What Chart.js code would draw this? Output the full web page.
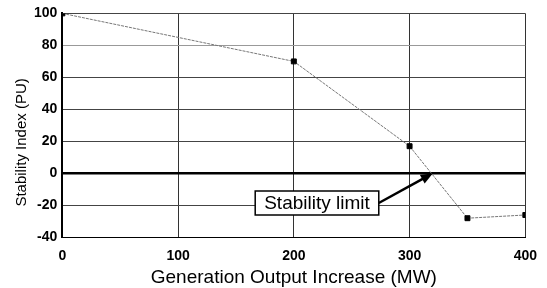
<!DOCTYPE html>
<html>
<head>
<meta charset="utf-8">
<script src="https://cdn.jsdelivr.net/npm/chart.js@4"></script>
<style>
  html, body { margin: 0; padding: 0; background: #fff; }
  #wrap { width: 547px; height: 288px; }
</style>
</head>
<body>
<div id="wrap"><canvas id="chart" width="547" height="288"></canvas></div>
<script>
// data
const outputIncrease = [0, 200, 300, 350, 400];
const stabilityIndex = [100, 70, 17, -28, -26];
const xTicks = [0, 100, 200, 300, 400];
const yTicks = [100, 80, 60, 40, 20, 0, -20, -40];
const yTitle = 'Stability Index (PU)';
const limitLabel = 'Stability limit';
const limitPoint = [320, 0];
const labelAt = [220, -18.5];

const points = outputIncrease.map((x, i) => ({ x: x, y: stabilityIndex[i] }));
const family = '"Liberation Sans", Arial, sans-serif';

// y title sits a bit below the middle of the plot in the original
const yTitleNote = {
    id: 'yTitleNote',
    afterDraw(chart) {
        const { ctx, chartArea } = chart;
        const cy = (chartArea.top + chartArea.bottom) / 2 + 17;
        ctx.save();
        ctx.translate(22, cy);
        ctx.rotate(-Math.PI / 2);
        ctx.font = '15px ' + family;
        ctx.fillStyle = '#000';
        ctx.textAlign = 'center';
        ctx.textBaseline = 'middle';
        ctx.fillText(yTitle, 0, 0);
        ctx.restore();
    }
};

// draws the "Stability limit" box with its arrow
const limitNote = {
    id: 'limitNote',
    afterDatasetsDraw(chart) {
        const { ctx, scales } = chart;
        const bx = scales.x.getPixelForValue(labelAt[0]);
        const by = scales.y.getPixelForValue(labelAt[1]);
        const tx = scales.x.getPixelForValue(limitPoint[0]);
        const ty = scales.y.getPixelForValue(limitPoint[1]);
        ctx.save();
        ctx.font = '19px ' + family;
        const w = ctx.measureText(limitLabel).width + 18;
        const h = 24;
        const left = bx - w / 2;
        // arrow
        const sx = left + w;
        const ang = Math.atan2(ty - by, tx - sx);
        const head = 13;
        ctx.strokeStyle = '#000';
        ctx.lineWidth = 2.5;
        ctx.beginPath();
        ctx.moveTo(sx, by);
        ctx.lineTo(tx - Math.cos(ang) * head * 0.8, ty - Math.sin(ang) * head * 0.8);
        ctx.stroke();
        ctx.fillStyle = '#000';
        ctx.beginPath();
        ctx.moveTo(tx, ty);
        ctx.lineTo(tx - head * Math.cos(ang - 0.4), ty - head * Math.sin(ang - 0.4));
        ctx.lineTo(tx - head * Math.cos(ang + 0.4), ty - head * Math.sin(ang + 0.4));
        ctx.closePath();
        ctx.fill();
        // box
        ctx.fillStyle = '#fff';
        ctx.fillRect(left, by - h / 2, w, h);
        ctx.lineWidth = 1.5;
        ctx.strokeRect(left, by - h / 2, w, h);
        ctx.fillStyle = '#000';
        ctx.textAlign = 'center';
        ctx.textBaseline = 'middle';
        ctx.fillText(limitLabel, bx, by + 1);
        ctx.restore();
    }
};

const font = { family: family, size: 14, weight: 'bold' };

new Chart(document.getElementById('chart').getContext('2d'), {
    type: 'scatter',
    data: {
        datasets: [{
            data: points,
            showLine: true,
            borderColor: '#777',
            borderWidth: 1,
            borderDash: [3, 1],
            pointStyle: 'rect',
            pointRadius: 3.5,
            pointBackgroundColor: '#000',
            pointBorderColor: '#000'
        }]
    },
    options: {
        responsive: false,
        animation: false,
        layout: { padding: { top: 11, right: 15, left: 29, bottom: 0 } },
        plugins: { legend: { display: false }, tooltip: { enabled: false } },
        scales: {
            x: {
                type: 'linear',
                min: 0,
                max: 400,
                afterBuildTicks: axis => { axis.ticks = xTicks.map(v => ({ value: v })); },
                grid: { color: '#333', lineWidth: 1, drawTicks: false },
                border: { color: '#000', width: 1 },
                ticks: { color: '#000', font: font, padding: 10 },
                title: {
                    display: true,
                    text: 'Generation Output Increase (MW)',
                    color: '#000',
                    font: { family: family, size: 19 },
                    padding: { top: -8, bottom: -1 }
                }
            },
            y: {
                min: -40,
                max: 100,
                afterBuildTicks: axis => { axis.ticks = yTicks.map(v => ({ value: v })); },
                grid: {
                    color: c => c.tick.value === 0 ? '#000' : (c.tick.value === 80 ? '#999' : '#444'),
                    lineWidth: c => c.tick.value === 0 ? 2.5 : 1,
                    drawTicks: false
                },
                border: { color: '#000', width: 2 },
                ticks: { color: '#000', font: font, padding: 5 }
            }
        }
    },
    plugins: [limitNote, yTitleNote]
});
</script>
</body>
</html>
